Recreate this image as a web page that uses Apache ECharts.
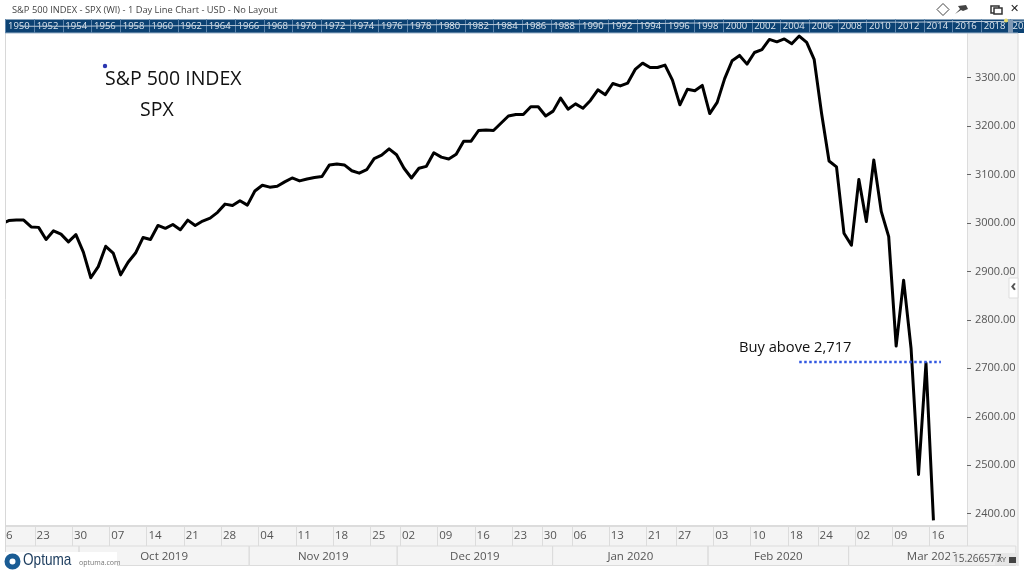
<!DOCTYPE html>
<html><head><meta charset="utf-8">
<style>html,body{margin:0;padding:0;background:#fff}#c{width:1024px;height:572px}</style>
<script src="https://cdn.jsdelivr.net/npm/echarts@6/dist/echarts.min.js"></script>
</head><body><div id="c"></div>
<script>
const dates = ['09-16','09-17','09-18','09-19','09-20','09-23','09-24','09-25','09-26','09-27','09-30',
'10-01','10-02','10-03','10-04','10-07','10-08','10-09','10-10','10-11','10-14','10-15','10-16','10-17','10-18','10-21','10-22','10-23','10-24','10-25','10-28','10-29','10-30','10-31',
'11-01','11-04','11-05','11-06','11-07','11-08','11-11','11-12','11-13','11-14','11-15','11-18','11-19','11-20','11-21','11-22','11-25','11-26','11-27','11-29',
'12-02','12-03','12-04','12-05','12-06','12-09','12-10','12-11','12-12','12-13','12-16','12-17','12-18','12-19','12-20','12-23','12-24','12-26','12-27','12-30','12-31',
'01-02','01-03','01-06','01-07','01-08','01-09','01-10','01-13','01-14','01-15','01-16','01-17','01-21','01-22','01-23','01-24','01-27','01-28','01-29','01-30','01-31',
'02-03','02-04','02-05','02-06','02-07','02-10','02-11','02-12','02-13','02-14','02-18','02-19','02-20','02-21','02-24','02-25','02-26','02-27','02-28',
'03-02','03-03','03-04','03-05','03-06','03-09','03-10','03-11','03-12','03-13','03-16'];
const closes = [2998,3005,3006,3006,2992,2991,2966,2984,2977,2961,2976,
2940,2887,2910,2952,2938,2893,2919,2938,2970,2966,2995,2989,2997,2986,3006,2995,3004,3010,3022,3039,3036,3046,3037,
3066,3078,3074,3076,3085,3093,3087,3091,3094,3096,3120,3122,3120,3108,3103,3110,3133,3140,3153,3141,
3113,3093,3113,3117,3145,3136,3132,3142,3169,3169,3191,3192,3191,3206,3221,3224,3224,3240,3240,3221,3231,
3258,3235,3246,3237,3253,3275,3265,3288,3283,3289,3317,3330,3321,3321,3326,3295,3244,3276,3273,3284,3226,
3249,3298,3335,3346,3328,3352,3358,3379,3374,3380,3370,3386,3373,3338,3226,3128,3116,2979,2954,
3090,3003,3130,3024,2972,2746,2882,2741,2481,2711,2386];
const padSlots = ['p1','p2','p3','p4'];
const weekStarts = ['09-16','09-23','09-30','10-07','10-14','10-21','10-28','11-04','11-11','11-18','11-25','12-02','12-09','12-16','12-23','12-30','01-06','01-13','01-21','01-27','02-03','02-10','02-18','02-24','03-02','03-09','03-16'];
const monthNames = ['Sep 2019','Oct 2019','Nov 2019','Dec 2019','Jan 2020','Feb 2020','Mar 2020'];
const monthFirst = ['09-16','10-01','11-01','12-02','01-02','02-03','03-02'];
const yTicks = [2400,2500,2600,2700,2800,2900,3000,3100,3200,3300,3400];
const buyLevel = 2713;
const buyFrom = '02-19', buyTo = 'p1';
const years = [];
for (let y = 1950; y <= 2020; y += 2) years.push(String(y));
const historyLine = [20,20,20,21,21,21,22,22,22,23,23,23,23,24,24,25,25,25,26,26,27,28,28,29,30,31,31,30,30,31,32,32,33,34,34,35];

const cats = dates.concat(padSlots);
const mono = '"Open Sans","Noto Sans",sans-serif';
const txt = '#555';
const buySeries = cats.map((d,i)=> (i>=cats.indexOf(buyFrom) && i<=cats.indexOf(buyTo)) ? buyLevel : null);
const monthCells = monthNames.map((m,i)=>[dates.indexOf(monthFirst[i]), i<monthNames.length-1?dates.indexOf(monthFirst[i+1]):137.6, m]);
const isWeek = (idx,val)=> weekStarts.includes(val);

const chart = echarts.init(document.getElementById('c'),null,{renderer:'canvas'});
const label = (t,x,y,size,color,extra,el)=>Object.assign({type:'text',z:20,x,y,style:Object.assign({text:t,fontFamily:mono,fontSize:size,fill:color,textVerticalAlign:'middle'},extra||{})},el||{});
const box = (x,y,w,h,fill,z,stroke)=>({type:'rect',z,shape:{x,y,width:w,height:h},style:{fill,stroke:stroke||null,lineWidth:1}});

chart.setOption({
  animation:false,
  backgroundColor:'#fff',
  grid:[
    {left:-2.4,top:29.26,width:969.4,height:496.74,outerBoundsMode:'none'},
    {left:5.6,top:19.5,width:36*28.7,height:13.5,outerBoundsMode:'none'},
    {left:-2.4,top:546,width:969.4,height:19.5,outerBoundsMode:'none'}
  ],
  xAxis:[
    {gridIndex:0,type:'category',data:cats,boundaryGap:true,
      axisLine:{lineStyle:{color:'#dcdcdc',width:2}},
      axisTick:{show:true,length:20,interval:isWeek,lineStyle:{color:'#dcdcdc',width:1}},
      axisLabel:{interval:isWeek,align:'left',margin:4,padding:[0,0,0,-2],color:txt,fontFamily:mono,fontSize:11.5,hideOverlap:false,
        formatter:v=>v.slice(3)},
      splitLine:{show:false}},
    {gridIndex:1,type:'category',data:years,boundaryGap:true,z:12,
      axisLine:{show:false},
      axisTick:{show:true,inside:true,length:14,alignWithLabel:false,interval:0,lineStyle:{color:'#5f86ad',width:1}},
      axisLabel:{inside:true,interval:0,align:'left',margin:2,color:'#dfe8f0',fontFamily:mono,fontSize:9.5,
        padding:[0,0,0,-12],verticalAlign:'bottom'}},
    {gridIndex:2,type:'value',min:0,max:131,show:false}
  ],
  yAxis:[
    {gridIndex:0,type:'value',position:'right',min:2374.5,max:3400,z:6,
      axisLine:{show:true,lineStyle:{color:'#dcdcdc',width:1}},
      axisTick:{show:true,length:4,customValues:yTicks,lineStyle:{color:'#666'}},
      axisLabel:{customValues:yTicks,showMaxLabel:true,margin:8,color:txt,fontFamily:mono,fontSize:11,formatter:v=>v.toFixed(2)},
      splitLine:{show:false}},
    {gridIndex:1,type:'value',min:0,max:40,show:false},
    {gridIndex:2,type:'value',min:0,max:1,show:false}
  ],
  series:[
    {name:'SPX',type:'line',xAxisIndex:0,yAxisIndex:0,data:closes,showSymbol:false,smooth:false,z:5,
      lineStyle:{color:'#000',width:3,join:'round'}},
    {name:'Buy level',type:'line',xAxisIndex:0,yAxisIndex:0,data:buySeries,showSymbol:false,z:6,
      lineStyle:{color:'#3057e0',width:2.5,type:[2.5,2.5]}},
    {name:'History',type:'line',xAxisIndex:1,yAxisIndex:1,data:historyLine,showSymbol:false,z:13,clip:false,silent:true,
      lineStyle:{color:'#b9c9d8',width:1}},
    {name:'Months',type:'custom',xAxisIndex:2,yAxisIndex:2,data:monthCells,encode:{x:[0,1]},clip:false,z:4,
      renderItem:(p,api)=>{
        const a=api.coord([api.value(0),1]), b=api.coord([api.value(1),0]);
        return {type:'group',children:[
          {type:'rect',shape:{x:a[0],y:a[1],width:b[0]-a[0],height:b[1]-a[1]},style:{fill:'transparent',stroke:'#dcdcdc',lineWidth:1}},
          {type:'text',x:(a[0]+b[0])/2,y:(a[1]+b[1])/2+0.5,style:{text:monthNames[p.dataIndex],fontFamily:mono,fontSize:11.5,fill:txt,textAlign:'center',textVerticalAlign:'middle'}}
        ]};
      }}
  ],
  graphic:[
    box(5,526,963,40,'#f4f4f4',-5),
    box(968,33,50,533,'#f4f4f4',-5),
    {type:'line',z:-4,shape:{x1:1018,y1:33,x2:1018,y2:566},style:{stroke:'#d8d8d8'}},
    box(0,33,5,533,'#fff',8),
    box(0,526,5,46,'#fff',8),
    {type:'line',z:9,shape:{x1:5.5,y1:33,x2:5.5,y2:566},style:{stroke:'#d8d8d8',lineWidth:1}},
    box(0,0,1024,19.5,'#fff',9),
    box(5,19.5,1019,13.5,'#0c4273',10),
    {type:'line',z:11,shape:{x1:5,y1:33,x2:1018,y2:33},style:{stroke:'#9db4ca',lineWidth:1}},
    box(1008,20,5,13,'#7f99b5',14),
    {type:'circle',z:15,shape:{cx:1006,cy:20.5,r:2},style:{fill:'#e8dc6a'}},
    label('S&P 500 INDEX - SPX (WI) - 1 Day Line Chart - USD - No Layout',12,10,9.3,'#444'),
    // window controls
    {type:'polygon',z:20,shape:{points:[[943,3.5],[949,9.5],[943,15.5],[937,9.5]]},style:{fill:'none',stroke:'#444',lineWidth:1}},
    {type:'polygon',z:20,shape:{points:[[955,14],[960,9],[958,6],[966,5],[968,9],[963,11],[961,10]]},style:{fill:'#444'}},
    {type:'rect',z:20,shape:{x:991,y:6,width:8,height:7},style:{fill:'none',stroke:'#333',lineWidth:1.5}},
    {type:'rect',z:20,shape:{x:994,y:8,width:8,height:6},style:{fill:'#fff',stroke:'#333',lineWidth:1.5}},
    label('✕',1010,9.5,11,'#222',{fontWeight:'bold',fontFamily:'DejaVu Sans'}),
    // annotations
    {type:'circle',z:20,shape:{cx:105,cy:66,r:2.2},style:{fill:'#2a35b0'}},
    label('S&P 500 INDEX',105,79.5,19.5,'#111'),
    label('SPX',140,110,19.5,'#111'),
    label('Buy above 2,717',739,347.5,14.7,'#111'),
    // side handle
    box(1009,278,9,20,'#fff',15,'#ddd'),
    label('‹',1010.5,286,16,'#555',{fontWeight:'bold'}),
    // logo
    box(4,552,113,17.5,'#fff',16),
    {type:'circle',z:20,shape:{cx:12.5,cy:561.5,r:5.5},style:{fill:'none',stroke:'#1a5c94',lineWidth:5}},
    label('Optuma',23,560,17,'#1f3f60',{fontFamily:'"Liberation Sans",sans-serif'},{scaleX:0.8}),
    label('optuma.com',79,563,7,'#777'),
    // coordinate readout
    box(950,553,68,12,'#eee',16),
    label('15.266577',953,559.5,10,'#555'),
    box(995,553,23,12,'#e6e6e6',17),
    label('XY',998,559.5,7,'#444'),
    {type:'rect',z:20,shape:{x:1009,y:557,width:7,height:6},style:{fill:'#444'}}
  ]
});
</script></body></html>
